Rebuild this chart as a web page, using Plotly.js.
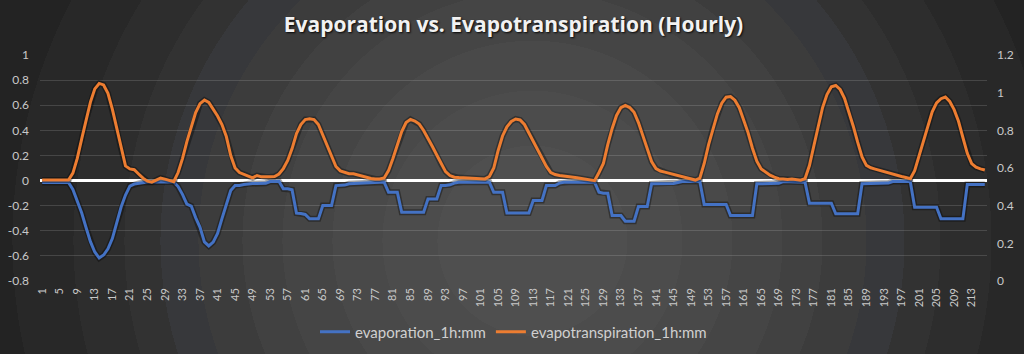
<!DOCTYPE html>
<html>
<head>
<meta charset="utf-8">
<script src="https://cdn.plot.ly/plotly-3.0.1.min.js"></script>
<style>
  html, body { margin: 0; padding: 0; background: #262626; }
  #chart {
    width: 1024px; height: 354px;
    background: radial-gradient(circle at 52% 68%,
      #4f4f4f 0px, #4f4f4f 95px,
      #4c4c4c 95px, #4c4c4c 150px,
      #494949 150px, #494949 200px,
      #454545 200px, #454545 250px,
      #414141 250px, #414141 290px,
      #3c3c3c 290px, #3c3c3c 334px,
      #37383b 334px, #37383b 372px,
      #323232 372px, #323232 408px,
      #2d2d2d 408px, #2d2d2d 459px,
      #282828 459px, #282828 520px,
      #232323 520px);
  }
</style>
</head>
<body>
<div id="chart"></div>
<script>
// Hour index (categories) 1..216
const hours = Array.from({length: 216}, (_, i) => i + 1);

// evaporation_1h:mm (left axis)
const evaporation = [
  -0.015,-0.015,-0.015,-0.015,-0.015,-0.015,-0.015,-0.071,-0.157,-0.257,-0.374,-0.487,-0.569,-0.617,-0.593,-0.544,-0.462,-0.342,-0.211,-0.115,-0.044,-0.028,-0.023,-0.016,
  -0.012,-0.012,-0.012,-0.012,-0.012,-0.012,-0.012,-0.048,-0.110,-0.187,-0.203,-0.295,-0.372,-0.489,-0.521,-0.490,-0.422,-0.303,-0.183,-0.080,-0.040,-0.040,-0.032,-0.026,
  -0.024,-0.024,-0.024,-0.022,-0.008,-0.006,-0.006,-0.066,-0.066,-0.074,-0.260,-0.263,-0.270,-0.305,-0.305,-0.305,-0.199,-0.199,-0.199,-0.040,-0.040,-0.036,-0.026,-0.024,
  -0.018,-0.016,-0.013,-0.013,-0.013,-0.013,-0.013,-0.093,-0.093,-0.093,-0.252,-0.252,-0.252,-0.252,-0.252,-0.252,-0.146,-0.146,-0.146,-0.040,-0.040,-0.034,-0.020,-0.013,
  -0.013,-0.013,-0.013,-0.013,-0.013,-0.013,-0.013,-0.093,-0.093,-0.093,-0.258,-0.258,-0.258,-0.258,-0.258,-0.258,-0.159,-0.159,-0.159,-0.040,-0.040,-0.040,-0.020,-0.013,
  -0.013,-0.013,-0.013,-0.013,-0.013,-0.013,-0.013,-0.093,-0.101,-0.101,-0.279,-0.279,-0.279,-0.324,-0.324,-0.324,-0.207,-0.207,-0.207,-0.026,-0.026,-0.026,-0.026,-0.026,
  -0.024,-0.015,-0.008,-0.008,-0.008,-0.008,-0.008,-0.191,-0.191,-0.191,-0.191,-0.191,-0.191,-0.279,-0.279,-0.279,-0.279,-0.279,-0.279,-0.026,-0.026,-0.026,-0.026,-0.026,
  -0.022,-0.008,-0.008,-0.008,-0.008,-0.008,-0.013,-0.181,-0.181,-0.181,-0.181,-0.181,-0.181,-0.265,-0.265,-0.265,-0.265,-0.265,-0.265,-0.026,-0.026,-0.026,-0.026,-0.026,
  -0.026,-0.020,-0.008,-0.008,-0.008,-0.008,-0.008,-0.213,-0.213,-0.213,-0.213,-0.213,-0.213,-0.305,-0.305,-0.305,-0.305,-0.305,-0.305,-0.032,-0.032,-0.032,-0.032,-0.032
];

// evapotranspiration_1h:mm (right axis)
const evapotranspiration = [
  0.536,0.536,0.536,0.536,0.536,0.536,0.536,0.573,0.651,0.753,0.859,0.950,1.020,1.049,1.041,0.996,0.913,0.808,0.702,0.611,0.595,0.591,0.568,0.546,
  0.530,0.525,0.536,0.547,0.541,0.532,0.527,0.576,0.650,0.740,0.820,0.894,0.942,0.961,0.948,0.913,0.876,0.831,0.767,0.666,0.600,0.576,0.565,0.557,
  0.548,0.560,0.553,0.552,0.553,0.555,0.568,0.597,0.640,0.703,0.783,0.831,0.857,0.861,0.857,0.831,0.775,0.717,0.655,0.608,0.585,0.576,0.570,0.569,
  0.562,0.555,0.548,0.544,0.542,0.542,0.547,0.586,0.650,0.726,0.794,0.841,0.858,0.849,0.833,0.799,0.759,0.714,0.669,0.621,0.581,0.560,0.551,0.549,
  0.548,0.546,0.544,0.542,0.542,0.542,0.555,0.600,0.693,0.770,0.819,0.847,0.860,0.855,0.831,0.786,0.740,0.703,0.653,0.608,0.576,0.565,0.560,0.558,
  0.555,0.552,0.548,0.544,0.539,0.536,0.533,0.576,0.624,0.724,0.810,0.879,0.921,0.932,0.921,0.896,0.841,0.772,0.698,0.634,0.597,0.584,0.578,0.572,
  0.564,0.557,0.550,0.545,0.541,0.536,0.546,0.624,0.724,0.813,0.887,0.944,0.976,0.979,0.960,0.920,0.857,0.788,0.705,0.636,0.595,0.577,0.562,0.551,
  0.543,0.541,0.539,0.541,0.539,0.535,0.544,0.613,0.717,0.823,0.921,0.990,1.031,1.038,1.017,0.970,0.900,0.822,0.737,0.659,0.614,0.601,0.594,0.587,
  0.581,0.575,0.568,0.560,0.555,0.550,0.543,0.586,0.666,0.751,0.831,0.898,0.946,0.968,0.977,0.953,0.910,0.848,0.762,0.678,0.623,0.604,0.595,0.589
];

// Tick labels
const xTickVals = hours.filter(h => (h - 1) % 4 === 0);
const xTickText = xTickVals.map(String);
const leftTickVals = [-0.8, -0.6, -0.4, -0.2, 0, 0.2, 0.4, 0.6, 0.8, 1];
const leftTickText = ["-0.8", "-0.6", "-0.4", "-0.2", "0", "0.2", "0.4", "0.6", "0.8", "1"];
const rightTickVals = [0, 0.2, 0.4, 0.6, 0.8, 1, 1.2];
const rightTickText = ["0", "0.2", "0.4", "0.6", "0.8", "1", "1.2"];

const BLUE = '#4472C4';
const ORANGE = '#ED7D31';
const SHADOW = 'rgba(0,0,0,0.35)';
const TXT = '#c9c9c9';
const FONT = 'Lato, "Open Sans", sans-serif';

const traces = [
  {x: hours, y: evaporation, type: 'scatter', mode: 'lines', yaxis: 'y',
   line: {color: SHADOW, width: 6}, showlegend: false, hoverinfo: 'skip'},
  {x: hours, y: evaporation, type: 'scatter', mode: 'lines', yaxis: 'y',
   name: 'evaporation_1h:mm', line: {color: BLUE, width: 3}},
  {x: hours, y: evapotranspiration, type: 'scatter', mode: 'lines', yaxis: 'y2',
   line: {color: SHADOW, width: 6}, showlegend: false, hoverinfo: 'skip'},
  {x: hours, y: evapotranspiration, type: 'scatter', mode: 'lines', yaxis: 'y2',
   name: 'evapotranspiration_1h:mm', line: {color: ORANGE, width: 3}}
];

const layout = {
  width: 1024, height: 354,
  paper_bgcolor: 'rgba(0,0,0,0)',
  plot_bgcolor: 'rgba(0,0,0,0)',
  margin: {l: 40, r: 37, t: 55, b: 73, pad: 0, autoexpand: false},
  font: {family: FONT, color: TXT},
  title: {
    text: 'Evaporation vs. Evapotranspiration (Hourly)',
    x: 0.5, xanchor: 'center', xref: 'paper',
    y: 1 - 25 / 354, yanchor: 'middle', yref: 'container',
    font: {family: '"Open Sans", sans-serif', size: 21, color: '#f2f2f2', weight: 700,
           shadow: '1px 1px 2px rgba(0,0,0,0.9)'}
  },
  xaxis: {
    range: [0.5, 216.5], automargin: false,
    tickmode: 'array', tickvals: xTickVals, ticktext: xTickText,
    tickangle: -90, tickfont: {size: 11, color: TXT},
    ticklabelstandoff: 4,
    showgrid: false, zeroline: false, showline: false, ticks: ''
  },
  yaxis: {
    range: [-0.8, 1], automargin: false,
    tickmode: 'array', tickvals: leftTickVals, ticktext: leftTickText,
    tickfont: {size: 12, color: TXT}, ticklabelstandoff: 10,
    showgrid: true, gridcolor: 'rgba(255,255,255,0.14)', gridwidth: 1,
    zeroline: true, zerolinecolor: '#ffffff', zerolinewidth: 3,
    showline: false, ticks: ''
  },
  yaxis2: {
    range: [0, 1.2], overlaying: 'y', side: 'right', automargin: false,
    tickmode: 'array', tickvals: rightTickVals, ticktext: rightTickText,
    tickfont: {size: 12, color: TXT}, ticklabelstandoff: 9,
    showgrid: false, zeroline: false, showline: false, ticks: ''
  },
  legend: {
    orientation: 'h', x: 0.5, xanchor: 'center', xref: 'paper',
    y: 1 - 332 / 354, yanchor: 'middle', yref: 'container',
    font: {size: 15, color: '#d0d0d0', family: FONT},
    bgcolor: 'rgba(0,0,0,0)', itemwidth: 30, traceorder: 'normal'
  },
  showlegend: true
};

Plotly.newPlot('chart', traces, layout, {displayModeBar: false, staticPlot: true});
</script>
</body>
</html>
